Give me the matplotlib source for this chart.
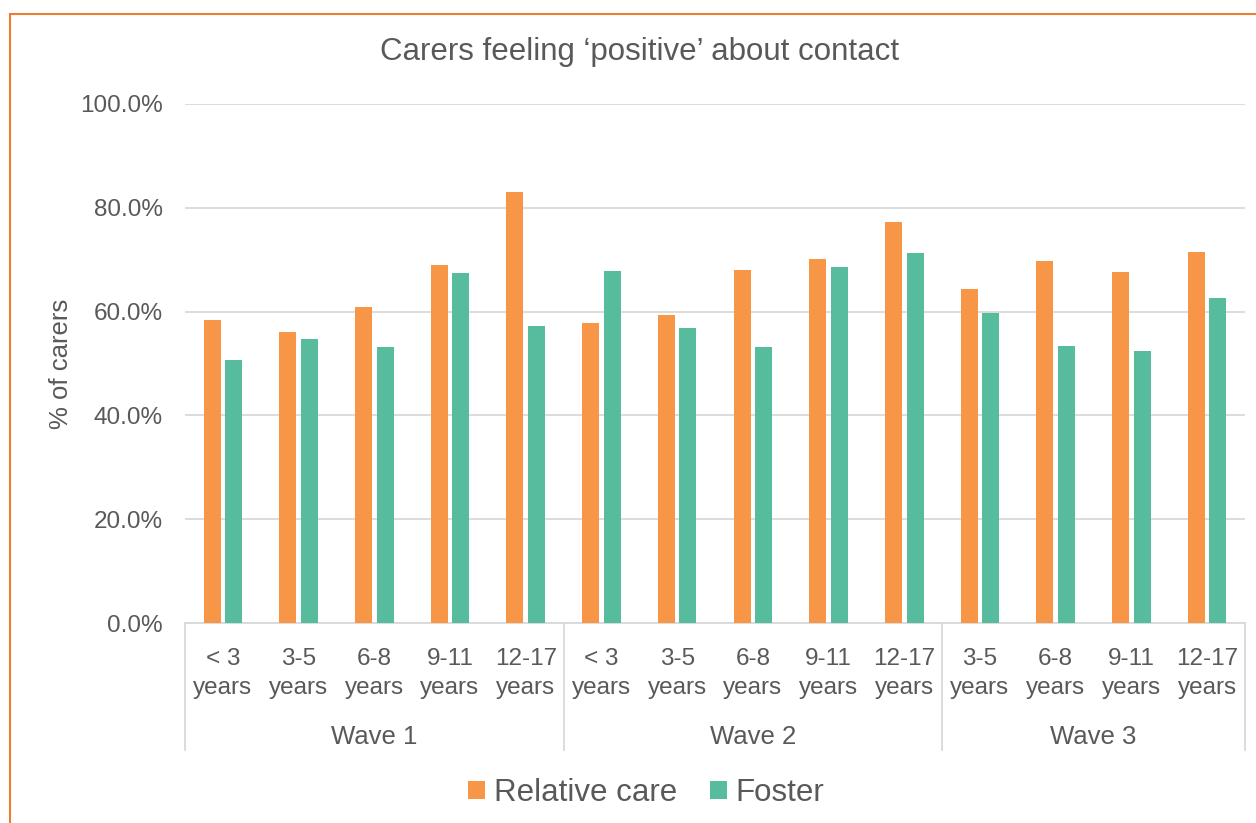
import numpy as np
import matplotlib.pyplot as plt
import matplotlib.transforms as mtransforms
from matplotlib.patches import Rectangle

plt.rcParams['font.family'] = ['Liberation Sans', 'DejaVu Sans']

# data
waves = ['Wave 1', 'Wave 2', 'Wave 3']
ages = ['< 3', '3-5', '6-8', '9-11', '12-17',
        '< 3', '3-5', '6-8', '9-11', '12-17',
        '3-5', '6-8', '9-11', '12-17']
wave_sizes = [5, 5, 4]
relative = [58.4, 56.1, 60.9, 69.0, 83.0,
            57.8, 59.3, 68.0, 70.1, 77.3,
            64.3, 69.7, 67.6, 71.5]
foster = [50.7, 54.7, 53.2, 67.4, 57.2,
          67.8, 56.8, 53.2, 68.6, 71.3,
          59.8, 53.4, 52.4, 62.6]

txt = '#595959'
grid = '#d9d9d9'
c_rel = '#F79646'
c_fos = '#57BB9D'

fig = plt.figure(figsize=(12.56, 8.23), dpi=100)
ax = fig.add_axes([185/1256, 1-623/823, (1245-185)/1256, (623-104)/823])

x = np.arange(len(ages))
w = 0.225
ax.bar(x - w/2 - 0.03, relative, w, color=c_rel, label='Relative care', zorder=3)
ax.bar(x + w/2 + 0.03, foster, w, color=c_fos, label='Foster', zorder=3)

ax.set_xlim(-0.5, len(ages) - 0.5)
ax.set_ylim(0, 100)
ax.set_yticks(np.arange(0, 101, 20))
ax.set_yticklabels(['%.1f%%' % v for v in np.arange(0, 101, 20)], fontsize=17.5, color=txt)
ax.yaxis.grid(True, color=grid, linewidth=1.3, zorder=0)
ax.tick_params(axis='y', length=0, pad=16)
ax.tick_params(axis='x', length=0, pad=18)
ax.set_xticks(x)
ax.set_xticklabels([a + '\nyears' for a in ages], fontsize=17.5, color=txt, linespacing=1.4)

for s in ['top', 'right', 'left']:
    ax.spines[s].set_visible(False)
ax.spines['bottom'].set_color(grid)
ax.spines['bottom'].set_linewidth(1.3)

# wave separators and labels
trans = mtransforms.blended_transform_factory(ax.transData, ax.transAxes)
depth = -(750 - 623) / (623 - 104)
edges = np.concatenate([[0], np.cumsum(wave_sizes)]) - 0.5
for e in edges:
    ax.plot([e, e], [0, depth], color=grid, linewidth=1.3, transform=trans, clip_on=False)
for i, wname in enumerate(waves):
    mid = (edges[i] + edges[i+1]) / 2
    ax.text(mid, -(737 - 623) / (623 - 104), wname, transform=trans,
            ha='center', va='center', fontsize=18.5, color=txt)

ax.set_ylabel('% of carers', fontsize=18.5, color=txt, labelpad=5)

fig.text(640/1256, 1 - 52/823, 'Carers feeling \u2018positive\u2019 about contact',
         ha='center', va='center', fontsize=22.5, color=txt)

fig.legend(loc='center', bbox_to_anchor=(646/1256, 1 - 793/823), ncol=2, frameon=False,
           fontsize=22.5, labelcolor=txt, handlelength=0.55, handleheight=0.55,
           handletextpad=0.26, columnspacing=1.05)

# chart border (orange)
fig.patches.append(Rectangle((10/1256, -0.05), 1.2, 1 - 14/823 + 0.05,
                             transform=fig.transFigure, fill=False,
                             edgecolor='#ED7D31', linewidth=1.5))

fig.savefig('out.png', dpi=100)
